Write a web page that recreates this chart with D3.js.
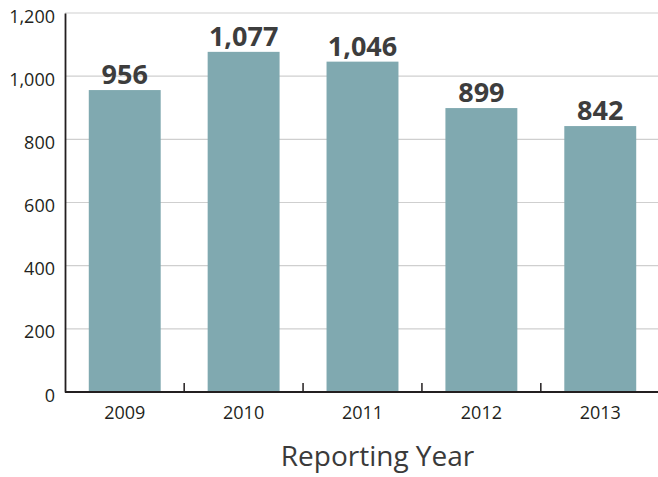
<!DOCTYPE html>
<html>
<head>
<meta charset="utf-8">
<script src="https://cdn.jsdelivr.net/npm/d3@7/dist/d3.min.js"></script>
<style>
  html, body { margin: 0; padding: 0; background: #fff; }
  svg { display: block; }
</style>
</head>
<body>
<svg id="chart" width="658" height="477"></svg>
<script>
const years = ["2009", "2010", "2011", "2012", "2013"];
const values = [956, 1077, 1046, 899, 842];
const yTicks = [0, 200, 400, 600, 800, 1000, 1200];
const xTitle = "Reporting Year";

const svg = d3.select("#chart");
const margin = { left: 65, right: -2, top: 13, bottom: 85 };
const W = 658, H = 477;
const x0 = margin.left, x1 = W - margin.right;
const y0 = H - margin.bottom, y1 = margin.top;

const x = d3.scaleBand().domain(years).range([x0, x1]).paddingInner(0.395).paddingOuter(0.2);
const y = d3.scaleLinear().domain([0, 1200]).range([y0, y1]);

const font = "'Open Sans', 'Noto Sans', sans-serif";

// gridlines
svg.append("g")
  .selectAll("line")
  .data(yTicks.filter(d => d > 0))
  .join("line")
  .attr("x1", x0).attr("x2", W)
  .attr("y1", d => y(d)).attr("y2", d => y(d))
  .attr("stroke", "#cfcfcf").attr("stroke-width", 1.2);

// bars
svg.append("g")
  .selectAll("rect")
  .data(years)
  .join("rect")
  .attr("x", d => x(d))
  .attr("width", x.bandwidth())
  .attr("y", (d, i) => y(values[i]))
  .attr("height", (d, i) => y(0) - y(values[i]))
  .attr("fill", "#80a9b0");

// value labels
svg.append("g")
  .selectAll("text")
  .data(years)
  .join("text")
  .attr("x", d => x(d) + x.bandwidth() / 2)
  .attr("y", (d, i) => y(values[i]) - 6)
  .attr("text-anchor", "middle")
  .attr("font-family", font)
  .attr("font-weight", "bold")
  .attr("font-size", 27)
  .attr("fill", "#3d3d3d")
  .text((d, i) => d3.format(",")(values[i]));

// y axis
const yAxis = d3.axisLeft(y).tickValues(yTicks).tickFormat(d3.format(",")).tickSize(0).tickPadding(10);
const gy = svg.append("g").attr("transform", `translate(${x0},0)`).call(yAxis);
gy.select(".domain").attr("stroke", "#231f20").attr("stroke-width", 1.8);
gy.selectAll("text")
  .attr("font-family", font).attr("font-size", 18).attr("fill", "#231f20")
  .attr("dy", "0.5em");

// x axis
const xAxis = d3.axisBottom(x).tickSize(0).tickPadding(12);
const gx = svg.append("g").attr("transform", `translate(0,${y0})`).call(xAxis);
gx.select(".domain").attr("d", `M${x0},0H${W}`).attr("stroke", "#231f20").attr("stroke-width", 2);
gx.selectAll("text")
  .attr("font-family", font).attr("font-size", 18).attr("fill", "#231f20")
  .attr("dy", "0.85em");

// separator ticks between bands
const step = x.step();
svg.append("g")
  .selectAll("line")
  .data(years.slice(1))
  .join("line")
  .attr("x1", d => x(d) - step * x.paddingInner() / 2)
  .attr("x2", d => x(d) - step * x.paddingInner() / 2)
  .attr("y1", y0).attr("y2", y0 - 9)
  .attr("stroke", "#231f20").attr("stroke-width", 1.5);

// x title
svg.append("text")
  .attr("x", (x0 + W) / 2 + 16)
  .attr("y", 466)
  .attr("text-anchor", "middle")
  .attr("font-family", font)
  .attr("font-size", 28)
  .attr("fill", "#3a3a3a")
  .text(xTitle);
</script>
</body>
</html>
